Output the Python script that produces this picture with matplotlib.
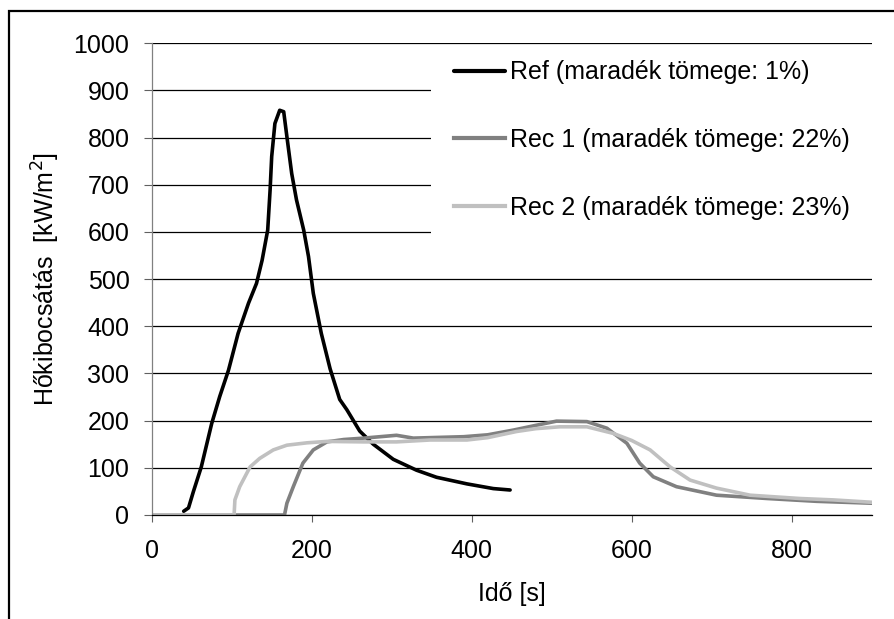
import numpy as np
import matplotlib
matplotlib.use("Agg")
import matplotlib.pyplot as plt
from matplotlib.patches import Rectangle

plt.rcParams['font.family'] = ['Liberation Sans', 'DejaVu Sans']

# Ref (maradék tömege: 1%)
ref_t = [0, 40, 46, 52, 62, 75, 85, 96, 108, 121, 131, 138, 145, 148, 150, 154, 160,
         165, 169, 175, 181, 190, 196, 202, 212, 223, 235, 244, 260, 277, 302, 331,
         356, 394, 427, 448]
ref_q = [np.nan, 8, 15, 49, 102, 194, 251, 307, 385, 449, 491, 540, 604, 689, 760, 830, 858,
         855, 802, 724, 668, 604, 548, 470, 385, 310, 245, 223, 178, 150, 118, 95,
         80, 66, 56, 53]

# Rec 1 (maradék tömege: 22%)
rec1_t = [0, 166, 169, 177, 189, 202, 219, 240, 265, 306, 327, 390, 420, 452, 480, 506,
          544, 569, 594, 610, 627, 656, 706, 769, 831, 900]
rec1_q = [0, 0, 25, 60, 110, 138, 155, 160, 163, 169, 163, 166, 170, 180, 190, 199,
          198, 184, 152, 110, 81, 60, 42, 35, 29, 25]

# Rec 2 (maradék tömege: 23%)
rec2_t = [0, 103, 104, 110, 123, 135, 152, 169, 194, 219, 265, 306, 348, 394, 420, 456,
          480, 510, 544, 577, 600, 623, 648, 673, 706, 748, 810, 852, 900]
rec2_q = [0, 0, 32, 60, 102, 120, 138, 148, 153, 156, 155, 155, 159, 159, 164, 177,
          183, 187, 187, 173, 158, 138, 102, 74, 57, 42, 35, 32, 27]

labels = ['Ref (maradék tömege: 1%)', 'Rec 1 (maradék tömege: 22%)',
          'Rec 2 (maradék tömege: 23%)']
colors = ['black', '#808080', '#c0c0c0']

W, H = 894, 619
fig = plt.figure(figsize=(W / 100, H / 100), dpi=100)
ax = fig.add_axes([151.7 / W, 1 - 515 / H, 720 / W, 471.7 / H])

ax.plot(ref_t, ref_q, color=colors[0], lw=2.6, label=labels[0], solid_capstyle='round')
ax.plot(rec1_t, rec1_q, color=colors[1], lw=2.6, label=labels[1])
ax.plot(rec2_t, rec2_q, color=colors[2], lw=2.6, label=labels[2])

ax.set_xlim(0, 900)
ax.set_ylim(0, 1000)
ax.set_xticks([0, 200, 400, 600, 800])
ax.set_yticks(np.arange(0, 1001, 100))
ax.yaxis.grid(True, color='black', lw=0.9)
ax.set_axisbelow(True)

for s in ['top', 'right']:
    ax.spines[s].set_visible(False)
ax.spines['left'].set_color('#808080')
ax.spines['left'].set_linewidth(0.9)
ax.spines['bottom'].set_color('black')
ax.spines['bottom'].set_linewidth(0.9)

ax.tick_params(axis='y', direction='out', length=6, width=0.8, color='#606060',
               labelsize=18, pad=10)
ax.tick_params(axis='x', direction='out', length=5, width=0.8, color='#606060',
               labelsize=18, pad=12)

ax.set_xlabel('Idő [s]', fontsize=18, labelpad=14)
ax.set_ylabel('Hőkibocsátás  [kW/m$^2$]', fontsize=18, labelpad=8)

# white legend area hiding the gridlines
ax.add_patch(Rectangle((431 / W, 1 - 250 / H), 1, 202 / H, transform=fig.transFigure,
                       facecolor='white', edgecolor='none', zorder=1))
leg = ax.legend(loc='upper left', bbox_to_anchor=(441 / W, 1 - 48 / H),
                bbox_transform=fig.transFigure, fontsize=18, frameon=False,
                handlelength=2.05, handletextpad=0.2, labelspacing=1.74,
                borderpad=0.5, borderaxespad=0)
for h in leg.get_lines():
    h.set_linewidth(3)

# outer chart border (cut off at right and bottom)
fig.add_artist(Rectangle((8.5 / W, -0.2), 1.2, 1.2 - 10.5 / H,
                         transform=fig.transFigure, fill=False,
                         edgecolor='black', lw=1.6))

fig.savefig('out.png', dpi=100)
